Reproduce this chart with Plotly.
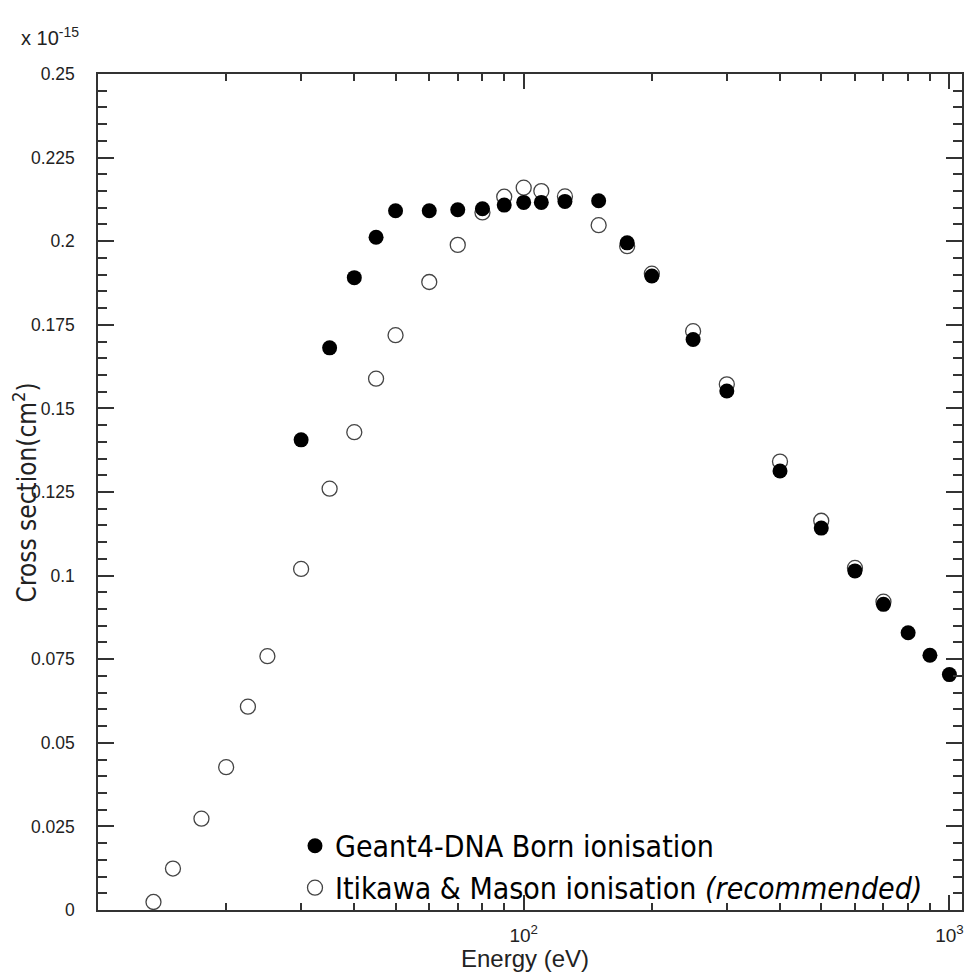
import plotly.graph_objects as go

# Geant4-DNA Born ionisation (filled circles)
born_energy = [30, 35, 40, 45, 50, 60, 70, 80, 90, 100, 110, 125, 150, 175, 200,
               250, 300, 400, 500, 600, 700, 800, 900, 1000]
born_xs = [0.1406, 0.1681, 0.1891, 0.2012, 0.2091, 0.2091, 0.2094, 0.2097, 0.2108,
           0.2116, 0.2116, 0.2119, 0.2121, 0.1995, 0.1896, 0.1706, 0.1552, 0.1313,
           0.1142, 0.1014, 0.0914, 0.0829, 0.0762, 0.0704]

# Itikawa & Mason ionisation (open circles)
itikawa_energy = [13.5, 15, 17.5, 20, 22.5, 25, 30, 35, 40, 45, 50, 60, 70, 80, 90,
                  100, 110, 125, 150, 175, 200, 250, 300, 400, 500, 600, 700]
itikawa_xs = [0.0024, 0.0124, 0.0273, 0.0427, 0.0608, 0.0759, 0.1020, 0.1260, 0.1429,
              0.1589, 0.1719, 0.1878, 0.1989, 0.2086, 0.2133, 0.2160, 0.2150, 0.2134,
              0.2048, 0.1985, 0.1903, 0.1731, 0.1572, 0.1341, 0.1164, 0.1023, 0.0922]

x_major = [100, 1000]
x_major_text = ["10<sup>2</sup>", "10<sup>3</sup>"]
x_minor = [20, 30, 40, 50, 60, 70, 80, 90, 200, 300, 400, 500, 600, 700, 800, 900]
y_major = [0, 0.025, 0.05, 0.075, 0.1, 0.125, 0.15, 0.175, 0.2, 0.225, 0.25]
y_major_text = ["0", "0.025", "0.05", "0.075", "0.1", "0.125", "0.15", "0.175", "0.2", "0.225", "0.25"]

NARROW = "Liberation Sans Narrow, Arial Narrow, DejaVu Sans Condensed, sans-serif"
SANS = "Liberation Sans, Arial, sans-serif"

fig = go.Figure()
fig.add_trace(go.Scatter(
    x=itikawa_energy, y=itikawa_xs, mode="markers",
    name="Itikawa & Mason ionisation <i>(recommended)</i>",
    marker=dict(symbol="circle", size=15, color="white",
                line=dict(color="#444444", width=1.3)),
    legendrank=2,
))
fig.add_trace(go.Scatter(
    x=born_energy, y=born_xs, mode="markers",
    name="Geant4-DNA Born ionisation",
    marker=dict(symbol="circle", size=15, color="black",
                line=dict(color="black", width=0)),
    legendrank=1,
))

axis_common = dict(
    showline=True, linecolor="#333333", linewidth=1.5, mirror="ticks",
    ticks="inside", tickcolor="#333333", tickwidth=1.5,
    showgrid=False, zeroline=False,
)

fig.update_xaxes(
    type="log", range=[1, 3.0296],
    tickmode="array", tickvals=x_major, ticktext=x_major_text, ticklen=15,
    minor=dict(tickmode="array", tickvals=x_minor, ticks="inside", ticklen=7,
               tickcolor="#333333", tickwidth=1.5, showgrid=False),
    ticklabelstandoff=7,
    tickfont=dict(family=SANS, size=19, color="#222222"),
    **axis_common,
)
fig.update_yaxes(
    range=[0, 0.25],
    tickmode="array", tickvals=y_major, ticktext=y_major_text, ticklen=16,
    minor=dict(dtick=0.005, tick0=0, ticks="inside", ticklen=9,
               tickcolor="#333333", tickwidth=1.5, showgrid=False),
    ticklabelstandoff=18,
    tickfont=dict(family=SANS, size=17.5, color="#222222"),
    **axis_common,
)

fig.update_layout(
    width=971, height=975,
    margin=dict(l=98, r=9, t=74, b=65, autoexpand=False),
    paper_bgcolor="white", plot_bgcolor="white",
    showlegend=True,
    legend=dict(
        x=0.228, y=0.108, xanchor="left", yanchor="top",
        bgcolor="rgba(0,0,0,0)", borderwidth=0,
        font=dict(family=NARROW, size=30, color="black"),
        tracegroupgap=0,
    ),
    annotations=[
        dict(text="Cross section(cm<sup>2</sup>)", xref="paper", yref="paper",
             x=-0.084, y=0.5, textangle=-90, showarrow=False,
             xanchor="center", yanchor="middle",
             font=dict(family=NARROW, size=26, color="#222222")),
        dict(text="Energy (eV)", xref="paper", yref="paper",
             x=0.4946, y=-0.058, showarrow=False,
             xanchor="center", yanchor="middle",
             font=dict(family=SANS, size=24, color="#222222")),
        dict(text="x 10<sup>-15</sup>", xref="paper", yref="paper",
             x=-0.091, y=1.045, showarrow=False,
             xanchor="left", yanchor="middle",
             font=dict(family=SANS, size=20, color="#222222")),
    ],
)

fig.write_html("out.html", config={"displayModeBar": False},
               post_script="document.body.style.margin='0';document.body.style.padding='0';")
